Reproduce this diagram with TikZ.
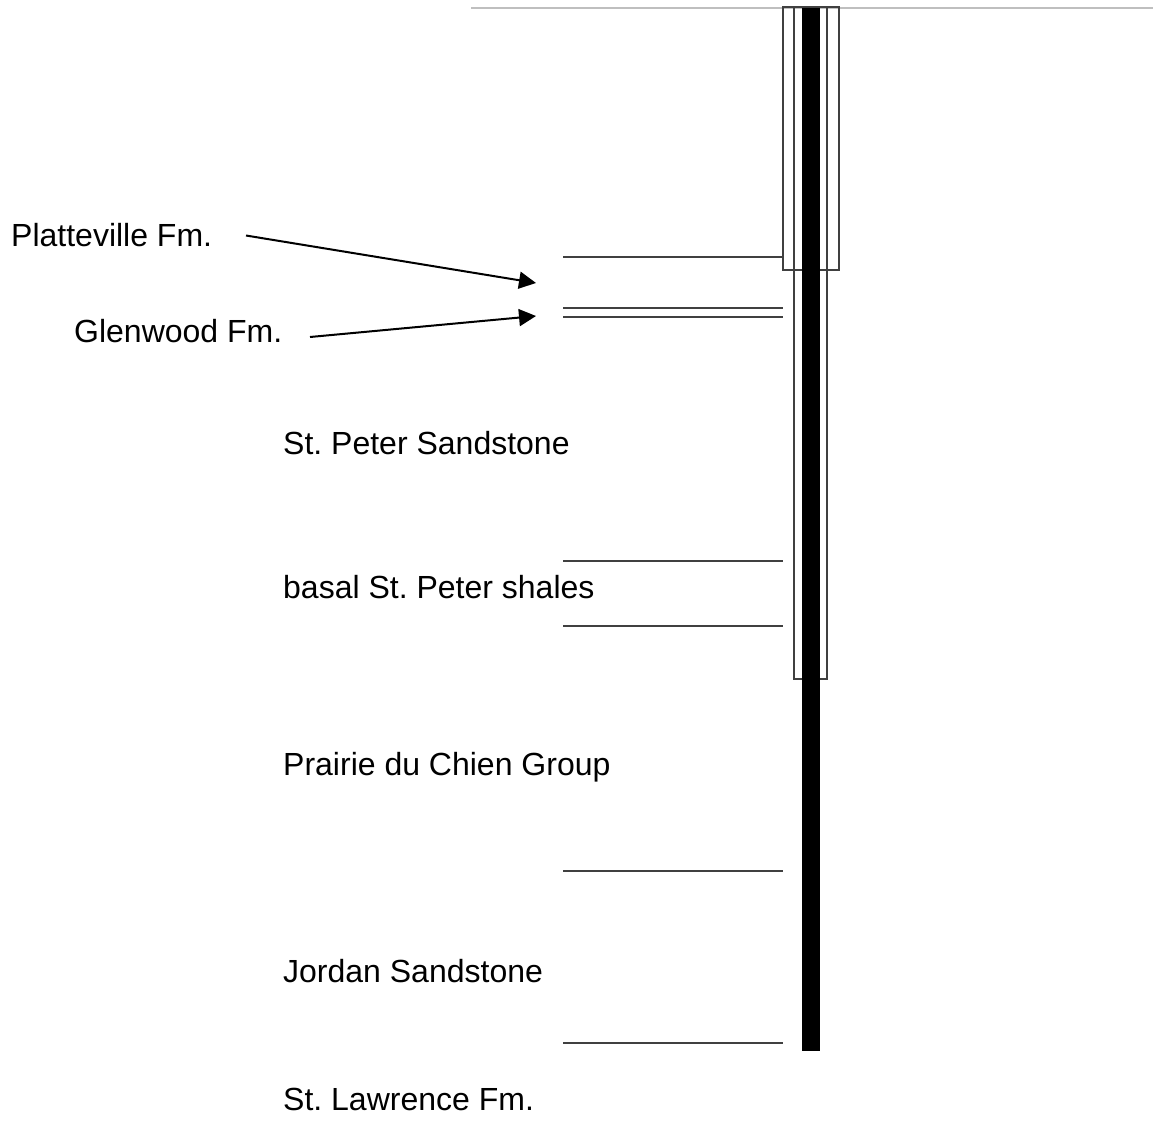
\documentclass[tikz,border=0pt]{standalone}
\usepackage{fontspec}
\setmainfont{Liberation Sans}
\usetikzlibrary{arrows.meta, positioning}
\frenchspacing
\begin{document}
\begin{tikzpicture}[
    x=1pt, y=-1pt,
    casing/.style={draw=black!75, line width=1.1pt, fill=none, inner sep=0pt},
    contact/.style={draw=black!75, line width=1.3pt},
    pointer/.style={draw=black, line width=2pt, -{Triangle[length=17pt,width=17pt]}},
    fmlabel/.style={font=\fontsize{32pt}{36pt}\selectfont, anchor=base west, inner sep=0pt}
]
    \useasboundingbox (0,0) rectangle (1153,1124);
    \coordinate (surfL) at (471,8);
    \coordinate (surfR) at (1153,8);
    \draw[draw=black!25, line width=1.3pt] (surfL) -- (surfR);

    % Well
    \draw[casing] (783,7) rectangle (839,270);
    \draw[casing] (794,7) rectangle (827,679);
    \fill[black] (802,8) rectangle (820,1051);

    % Contacts
    \foreach \name/\yy in {a/257,b/308,c/317,d/561,e/626,f/871,g/1043} {
        \coordinate (\name L) at (563,\yy);
        \coordinate (\name R) at (783,\yy);
        \draw[contact] (\name L) -- (\name R);
    }

    % Labels
    \node[fmlabel] (platt) at (11,246) {Platteville Fm.};
    \node[fmlabel] (glen) at (74,342) {Glenwood Fm.};
    \node[fmlabel] (peter) at (283,454) {St. Peter Sandstone};
    \node[fmlabel] (basal) at (283,598) {basal St. Peter shales};
    \node[fmlabel] (prairie) at (283,775) {Prairie du Chien Group};
    \node[fmlabel] (jordan) at (283,982) {Jordan Sandstone};
    \node[fmlabel] (lawr) at (283,1110) {St. Lawrence Fm.};

    % Arrows
    \coordinate (plattS) at (246,235.5);
    \coordinate (plattE) at (536,283);
    \coordinate (glenS) at (310,337);
    \coordinate (glenE) at (536,316);
    \draw[pointer] (plattS) -- (plattE);
    \draw[pointer] (glenS) -- (glenE);
\end{tikzpicture}
\end{document}
